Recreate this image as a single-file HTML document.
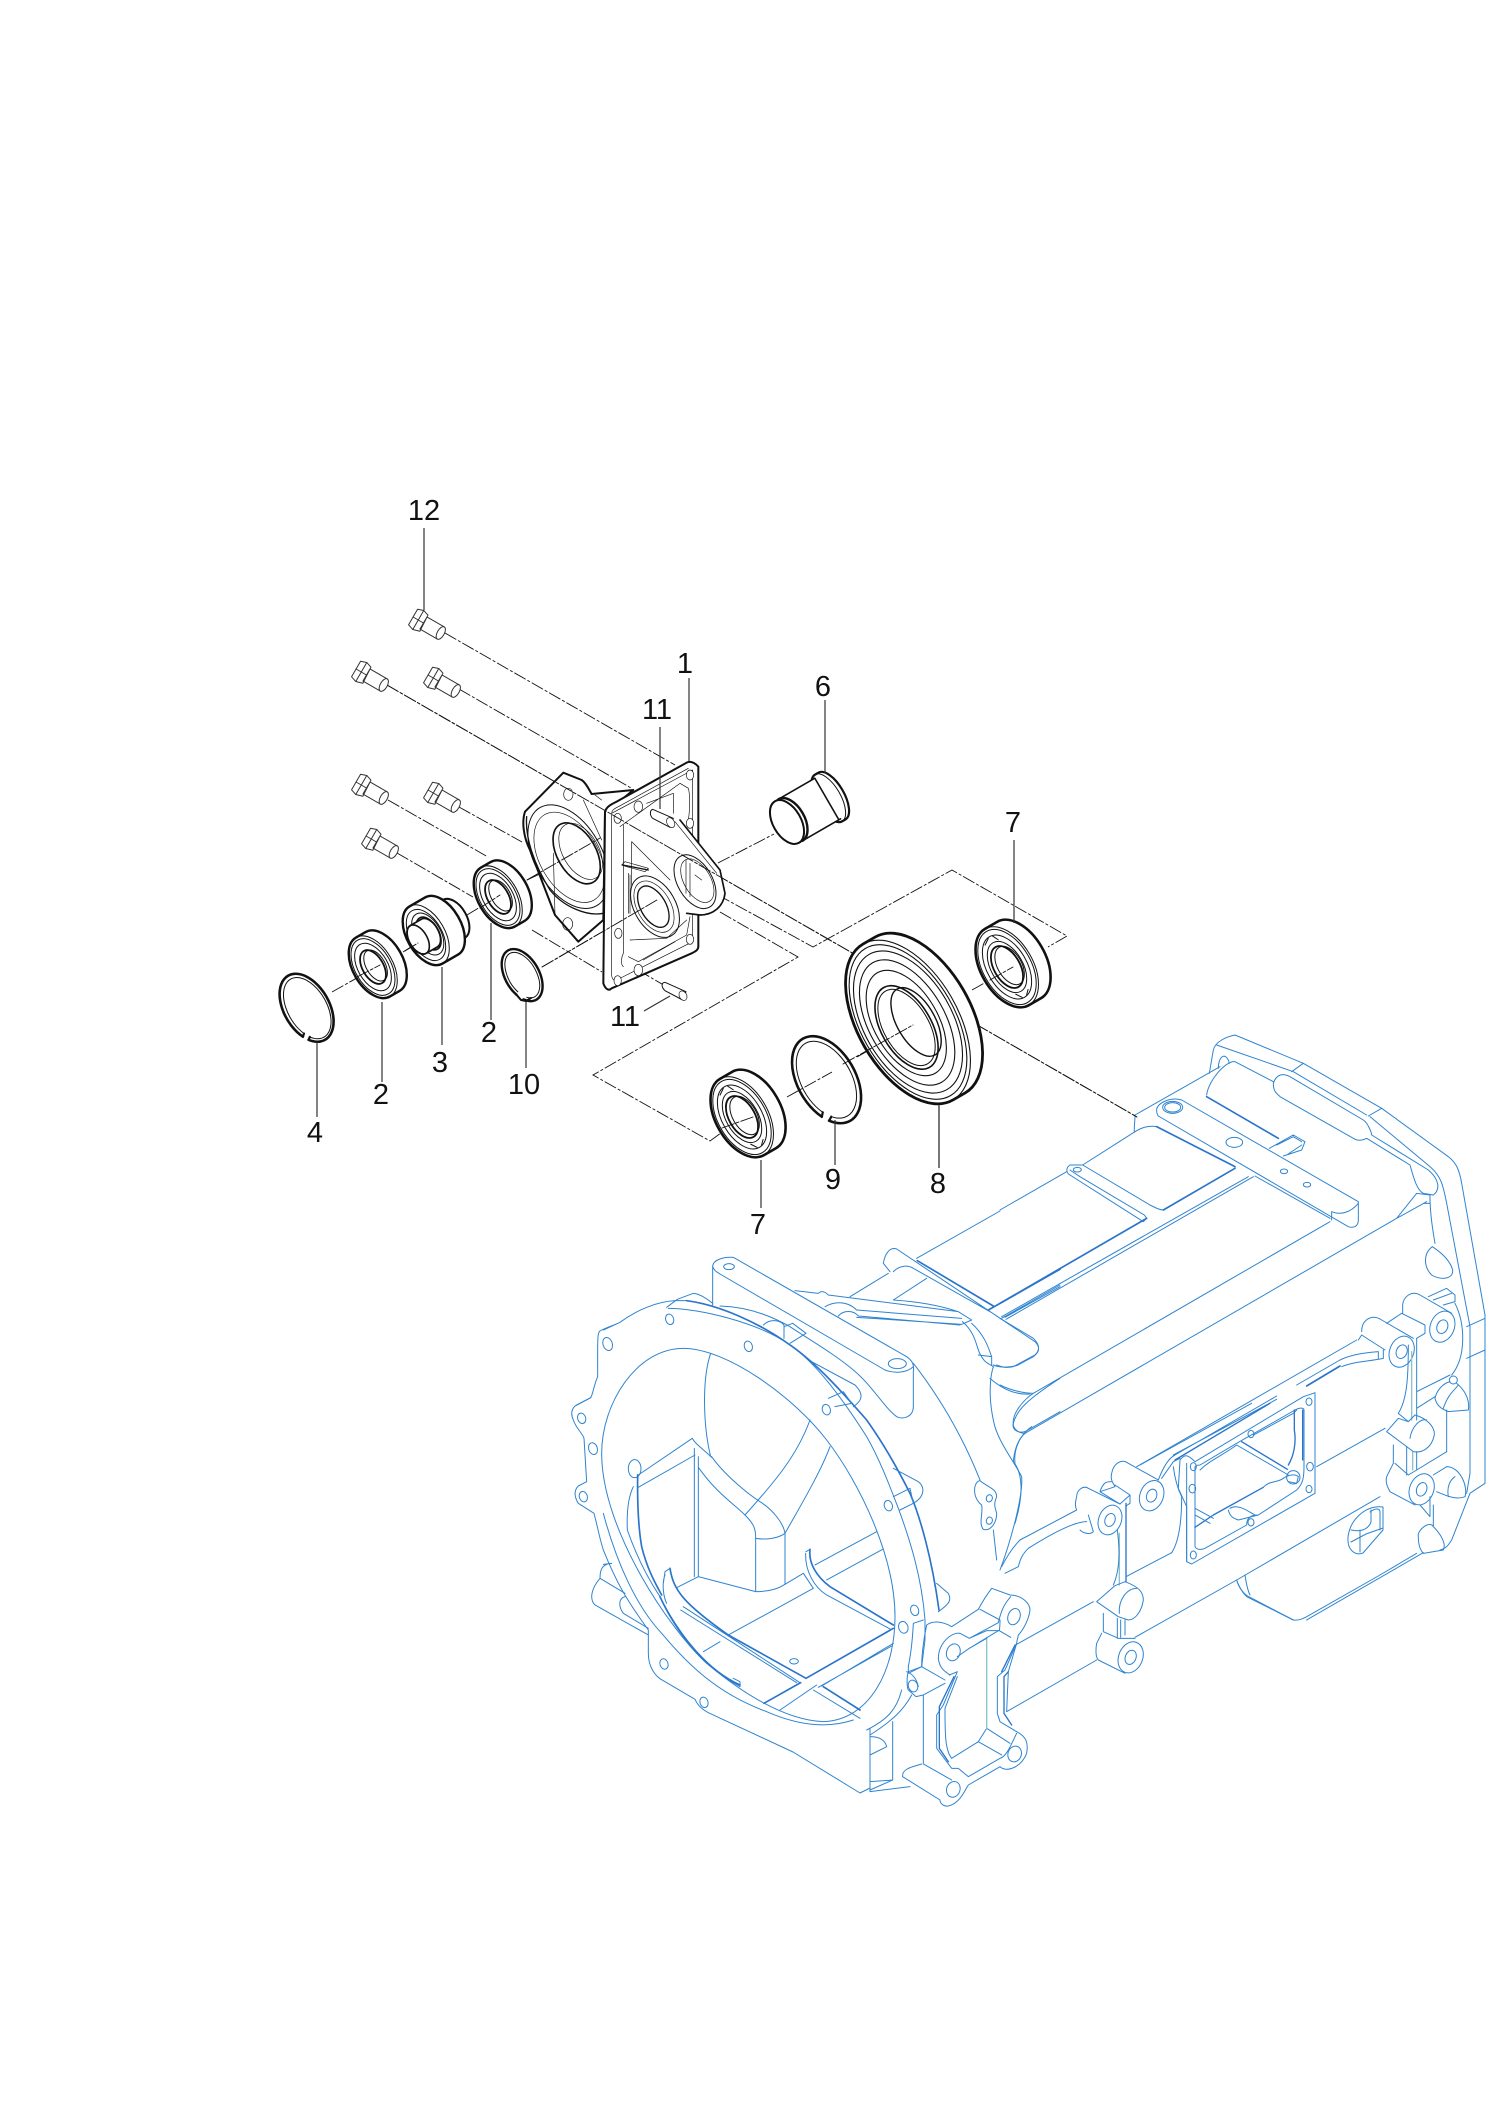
<!DOCTYPE html>
<html><head><meta charset="utf-8"><style>
html,body{margin:0;padding:0;background:#fff}
svg{display:block}
text{font-family:"Liberation Sans",sans-serif;font-size:29px;fill:#111;text-anchor:middle}
</style></head><body>
<svg width="1500" height="2121" viewBox="0 0 1500 2121" xmlns="http://www.w3.org/2000/svg">
<rect width="1500" height="2121" fill="#fff"/>
<!-- BLUE BODY -->
<g fill="none" stroke="#2f84d0" stroke-linejoin="round" stroke-linecap="round">
<!-- Z5 -->
<g transform="translate(560,1230) scale(.33333)" stroke-width="3">
<path d="M118,305C120,300 150,290 178,278C230,240 290,215 345,212L380,212M320,232L352,208L400,190C415,190 440,205 458,220M130,300L178,278M50,525L92,503"/>
<path d="M118,305C112,315 113,330 113,440C100,470 100,490 92,503L45,528C33,540 33,555 40,570C48,595 68,610 72,625L80,755L55,768C42,780 42,800 55,820L102,850C115,900 120,930 130,960C170,1060 200,1110 265,1200L265,1270C265,1310 285,1340 310,1352L405,1408C415,1430 430,1440 445,1448L699,1566L900,1689L930,1674"/>
<path d="M325,235C420,235 600,280 690,345C770,400 850,510 920,620C960,690 990,770 1015,835C1050,930 1085,1040 1095,1170L1095,1230L1085,1310L1045,1330L1045,1310C1055,1260 1058,1220 1060,1180L1090,1170"/>
<path stroke-width="5" stroke="#2a74cc" d="M380,212C480,225 600,280 690,345C770,400 850,490 920,570C970,640 1010,710 1050,790C1080,860 1115,980 1137,1140"/>
<path d="M125,670C125,520 230,355 370,355C500,355 700,500 800,630C900,760 1005,980 1005,1160C1005,1320 930,1470 790,1475C680,1470 560,1400 440,1300C330,1200 125,900 125,670Z"/>
<path d="M130,850C170,1000 230,1130 305,1210C380,1300 470,1390 620,1445C700,1480 790,1500 880,1470"/>
<path d="M452,370C425,450 430,590 452,680M750,570C710,680 640,760 555,855M810,650C780,730 720,830 675,910"/>
<path d="M415,712C470,790 520,820 555,855C585,885 587,900 587,925M455,680C490,730 560,790 600,815C640,840 670,880 675,910M587,925C620,930 655,925 675,910M587,925V1085M675,910V1063M397,625L235,735M235,772L405,675M403,655V1040M415,680V1040M397,625C405,640 420,650 455,682"/>
<ellipse cx="224" cy="716" rx="19" ry="27"/>
<path d="M220,770C205,800 200,850 202,900C230,980 260,1040 300,1100C350,1200 430,1310 540,1370"/>
<path stroke-width="5" stroke="#2a74cc" d="M233,735C232,800 233,880 245,950C260,1010 280,1050 305,1095M300,1100C350,1210 440,1320 540,1365"/>
<path d="M350,1073L415,1040L587,1085C620,1085 650,1080 675,1063L730,1030L760,1075L505,1215M430,1265L480,1235M950,905L765,1005M968,958L800,1050"/>
<path stroke-width="3" d="M737,970C735,1020 760,1070 800,1095L990,1197M738,965L750,958"/>
<path stroke-width="5" stroke="#2a74cc" d="M750,958C745,1000 770,1040 810,1070L1000,1185M1000,1195L738,1345M505,1215L738,1345M790,1370L900,1440M722,1358L612,1420M330,1015C340,1080 370,1120 505,1215"/>
<path d="M370,1130L720,1358M362,1140L710,1358M315,1035C305,1060 310,1100 320,1120M330,1015L315,1025L310,1060M770,1365L660,1440M785,1368L1000,1240M775,1372L995,1248M760,1380L900,1465M520,1345L540,1355V1370"/>
<ellipse cx="702" cy="1294" rx="13" ry="8"/>
<g>
<ellipse cx="143" cy="342" rx="14" ry="20" transform="rotate(-18 143 342)"/>
<ellipse cx="329" cy="268" rx="12" ry="16" transform="rotate(-18 329 268)"/>
<ellipse cx="565" cy="349" rx="12" ry="16" transform="rotate(-18 565 349)"/>
<ellipse cx="799" cy="539" rx="12" ry="16" transform="rotate(-18 799 539)"/>
<ellipse cx="985" cy="827" rx="12" ry="16" transform="rotate(-18 985 827)"/>
<ellipse cx="1064" cy="1141" rx="12" ry="16" transform="rotate(-18 1064 1141)"/>
<ellipse cx="1030" cy="1192" rx="14" ry="18" transform="rotate(-18 1030 1192)"/>
<ellipse cx="312" cy="1302" rx="12" ry="16" transform="rotate(-18 312 1302)"/>
<ellipse cx="432" cy="1417" rx="12" ry="16" transform="rotate(-18 432 1417)"/>
<ellipse cx="65" cy="565" rx="12" ry="16" transform="rotate(-18 65 565)"/>
<ellipse cx="99" cy="656" rx="13" ry="18" transform="rotate(-18 99 656)"/>
<ellipse cx="70" cy="800" rx="12" ry="16" transform="rotate(-18 70 800)"/>
</g>
<!-- top boss -->
<path d="M458,110C458,90 490,80 520,82L1040,380C1062,395 1062,410 1060,425L1060,530C1060,560 1030,570 1010,560C970,530 940,470 880,420C820,370 750,330 690,290C620,250 550,230 480,228M458,110V225M458,110C465,125 470,125 480,132L975,420C1000,430 1040,430 1060,410"/>
<ellipse cx="507" cy="110" rx="16" ry="9"/><ellipse cx="1012" cy="401" rx="27" ry="15"/>
<path d="M1060,400C1130,490 1200,600 1260,750"/>
<path d="M705,182L775,190C785,180 795,185 805,195L1195,245L1235,270L1205,283L890,262M795,230C820,215 860,210 890,240L1205,265M835,258C850,240 880,240 895,258L1200,285M1000,210C1080,215 1150,230 1195,245"/>
<path d="M1207,275C1250,310 1250,360 1262,375C1275,400 1285,400 1300,410M1235,280C1280,320 1290,370 1295,380L1295,405M1255,375L1295,380"/>
<path d="M610,285C630,265 660,270 672,285V325M672,290L698,280L738,310L690,340"/>
<path d="M1300,410C1290,440 1285,500 1300,570C1310,630 1360,690 1385,740C1390,800 1350,940 1320,1020M1290,445C1330,480 1370,495 1410,492M1365,700C1360,650 1385,610 1415,590"/>
<path d="M1360,580C1370,540 1400,510 1500,445M1360,580C1355,600 1375,610 1395,605L1500,545"/>
<path d="M1260,752C1240,755 1235,800 1265,825C1270,850 1255,880 1270,898C1290,905 1310,880 1310,850C1305,830 1300,825 1310,800C1310,775 1280,770 1260,752Z"/>
<ellipse cx="1288" cy="805" rx="9" ry="11" transform="rotate(18 1288 805)"/><ellipse cx="1288" cy="872" rx="9" ry="11" transform="rotate(18 1288 872)"/>
<path d="M1300,900L1310,990"/>
<path d="M970,100C975,70 990,50 1010,57L1425,335C1440,350 1440,365 1420,380L1370,407C1340,415 1310,410 1300,405M970,100L990,125M1000,125C1020,105 1045,105 1060,115L1290,245M1070,85L1320,-57M985,130L870,200M1100,145L1000,210"/>
<path stroke-width="5" stroke="#2a74cc" d="M1072,92L1300,228M1285,240L1500,118"/>
<path d="M1325,265L1500,165M1335,262L1500,170"/>
<path d="M1000,715L1075,755C1095,770 1095,800 1060,820L1020,840M1000,800L1050,775L1060,820M1130,1060L1165,1090C1175,1110 1170,1120 1135,1145M755,395L885,465C910,490 910,510 880,530M805,505L850,485L875,520L825,530"/>
<path d="M150,1000C125,1005 120,1020 120,1045C90,1080 90,1110 105,1125L265,1215M120,1045L195,1090M195,1100C175,1105 175,1130 190,1150L265,1195M130,1003L155,1000"/>
</g>
<!-- Z7 -->
<g transform="translate(880,1400) scale(.33333)" stroke-width="3">
<path d="M85,815L125,800C125,770 130,720 140,675C160,660 190,665 215,680L295,628C310,600 320,585 335,565L390,585C425,585 450,610 450,630C445,670 420,700 415,705L410,728"/>
<ellipse cx="402" cy="650" rx="18" ry="25" transform="rotate(20 402 650)"/>
<path d="M175,775C175,730 215,695 240,700L268,715L355,668C365,625 375,610 392,590M300,628L360,660C360,670 360,680 358,692M268,715L320,692L358,692L392,712"/>
<ellipse cx="220" cy="757" rx="20" ry="26" transform="rotate(20 220 757)"/>
<path d="M175,775C178,805 195,815 210,825M85,815C80,830 80,860 85,870L108,890L130,885L195,850M125,800L195,840M80,815C95,820 110,835 115,860M130,885V1092L215,1140"/>
<ellipse cx="99" cy="858" rx="14" ry="18" transform="rotate(-18 99 858)"/>
<path d="M68,1130C65,1105 100,1100 125,1092M68,1130L180,1200C180,1210 190,1220 205,1218C240,1210 255,1170 265,1155L360,1100C380,1120 425,1100 440,1060C445,1030 440,1010 410,995L360,965L352,940V830L375,810L410,730"/>
<ellipse cx="220" cy="1168" rx="20" ry="24" transform="rotate(20 220 1168)"/>
<ellipse cx="404" cy="1062" rx="20" ry="24" transform="rotate(20 404 1062)"/>
<path d="M208,825L232,815L190,915L170,945V1045L215,1105L235,1105L265,1130L360,1075C380,1070 395,1030 410,1000"/>
<path stroke-width="4" stroke="#2a74cc" d="M222,830L178,920V1045L205,1085M385,815L372,830V940L395,975M405,735L365,815"/>
<path d="M320,985L295,1025L215,1075C195,1050 195,1000 195,925L232,830M320,985L390,1030M295,1025L365,1065M410,730L385,815L380,935M380,935L650,780M410,733L640,605"/>
<path stroke="#8cc4c8" stroke-width="4" d="M320,715V985M718,400V555"/>
<path d="M320,715L268,745L232,770M268,745L355,692"/>
<!-- post lugs -->
<path d="M590,290C590,270 610,255 625,265L720,312M590,290C585,310 585,320 590,330L420,420C400,440 380,470 365,500M625,345L640,395C630,405 610,400 600,390M620,365C590,365 540,385 445,445C425,465 420,480 415,500L375,520"/>
<ellipse cx="690" cy="360" rx="34" ry="46" transform="rotate(22 690 360)" fill="#fff"/>
<ellipse cx="690" cy="360" rx="15" ry="20" transform="rotate(22 690 360)"/>
<path d="M695,220C700,190 725,175 745,190L835,240M695,220C690,240 700,250 705,260L660,275C670,245 680,245 695,245M660,275L720,312L750,285V310L738,318M705,255L750,285"/>
<ellipse cx="815" cy="287" rx="35" ry="47" transform="rotate(22 815 287)" fill="#fff"/>
<ellipse cx="815" cy="287" rx="15" ry="20" transform="rotate(22 815 287)"/>
<path stroke-width="4" stroke="#2a74cc" d="M738,310V545"/>
<path d="M712,390C720,450 720,510 700,555"/>
<path d="M650,605L705,557L735,545C775,560 790,575 790,600C785,635 765,660 745,660L715,650L650,605ZM718,640C715,600 740,565 770,565"/>
<path d="M670,640V695L715,715L765,715M735,660V705M712,655V715M722,660V712"/>
<path d="M665,700L650,730C645,760 650,775 655,780L735,820"/>
<ellipse cx="752" cy="772" rx="36" ry="48" transform="rotate(22 752 772)" fill="#fff"/>
<ellipse cx="752" cy="772" rx="16" ry="22" transform="rotate(22 752 772)"/>
<path d="M738,530L875,458M765,712L1070,540C1075,560 1090,580 1100,590L1240,660C1260,662 1270,655 1280,650L1500,525L1610,460M1095,525C1100,560 1105,575 1110,585M1070,540L1500,290M780,195L1115,10"/>
<!-- cover -->
<path d="M835,240C850,200 865,175 885,165L1190,-12M845,235L880,185L900,175M880,165L1190,-2"/>
<path stroke-width="4" stroke="#2a74cc" d="M885,180L1170,10"/>
<path fill="#fff" d="M900,180C915,160 925,165 945,185L1270,-10L1305,-22V280L935,492L920,485V320L895,265L900,180Z"/>
<path d="M875,458C900,420 905,350 905,290C895,270 885,240 880,200M920,190V485"/>
<path d="M945,200V440C950,450 965,450 975,445L1100,375C1100,345 1125,345 1135,345L1250,270C1270,250 1272,230 1272,200V30C1272,25 1262,20 1245,30L1070,130L960,195C950,195 945,200 945,200Z"/>
<path d="M960,210C990,180 1030,165 1070,135L1225,225M1120,105L1130,100L1240,40L1250,30"/>
<path stroke-width="4" stroke="#2a74cc" d="M1085,125L1222,208M1150,262L1000,345L945,382M1268,30V180M1243,30V90C1250,130 1240,170 1225,195"/>
<path d="M945,325L1000,355M945,345L990,370M1050,325C1075,310 1105,335 1125,345M1045,330C1050,350 1060,355 1075,360L1135,345"/>
<path d="M1150,262C1170,240 1190,250 1210,235C1225,225 1245,220 1255,230L1250,250L1225,245"/>
<circle cx="1240" cy="232" r="20"/>
<g>
<ellipse cx="940" cy="200" rx="9" ry="12"/><ellipse cx="937" cy="266" rx="10" ry="13"/><ellipse cx="940" cy="465" rx="9" ry="12"/><ellipse cx="1113" cy="102" rx="9" ry="11"/><ellipse cx="1113" cy="367" rx="9" ry="11"/><ellipse cx="1287" cy="5" rx="9" ry="11"/><ellipse cx="1290" cy="200" rx="10" ry="13"/><ellipse cx="1287" cy="267" rx="9" ry="11"/>
</g>
<!-- bottom of tub and pocket -->
<path d="M1070,540C1080,570 1095,585 1110,592L1240,660"/>
<path d="M-30,985V1175M38,965V1140L-30,1170M38,1140L-30,1145M90,1160L-30,1175"/>
<path d="M65,870C50,930 20,960 -40,990M95,885C70,930 40,960 -30,1005M-30,1010C0,1010 15,1020 20,1040L-30,1065"/>
</g>
<!-- Z6 -->
<g transform="translate(1000,1030) scale(.33333)" stroke-width="3">
<path d="M628,130L640,60C645,35 680,20 705,15L910,100L1145,235L1345,380C1370,400 1378,420 1385,460L1455,855V1360L1410,1390L1355,1530C1345,1545 1340,1555 1320,1560"/>
<path d="M875,125L910,100M1105,258L1145,235M650,45L880,125L1100,255M655,115C655,75 680,65 688,100M1110,260L1290,410C1325,440 1330,470 1340,520L1410,890V1330L1400,1390M1400,890L1455,865M1400,985L1455,960"/>
<path d="M820,160C830,130 850,130 870,140L1090,270C1105,280 1115,310 1115,315L1285,420C1320,450 1320,480 1300,495L1270,490M820,160C820,185 830,190 840,200L1060,325C1075,335 1090,330 1100,325L1230,405C1240,440 1250,480 1270,490"/>
<path d="M620,195C625,150 680,90 705,95L820,155M660,110L405,255C405,275 402,290 403,305"/>
<path stroke-width="5" stroke="#2a74cc" d="M620,200L835,325"/>
<path d="M470,240C470,220 510,200 545,210L1075,515V570C1075,590 1060,595 1045,590L475,258C470,252 470,245 470,240ZM995,545C1020,555 1050,550 1075,520M995,545V570"/>
<ellipse cx="518" cy="232" rx="30" ry="18"/><ellipse cx="518" cy="232" rx="24" ry="14"/>
<ellipse cx="703" cy="337" rx="25" ry="15"/><ellipse cx="852" cy="424" rx="11" ry="7"/><ellipse cx="921" cy="464" rx="11" ry="7"/>
<path d="M808,355L880,315L915,335L905,360L850,378M830,345L880,320L905,335M860,375L905,345"/>
<path d="M405,305C420,295 445,285 470,290L705,410M490,540C480,540 470,535 450,525L248,405L210,405C195,415 200,430 210,435L430,575L440,565L433,555L240,440L210,420"/>
<ellipse cx="232" cy="419" rx="12" ry="7"/>
<path d="M248,405L405,305M0,540L200,425M745,440L5,860M760,440L18,868M765,438L990,565M0,865L100,925C120,945 120,960 105,975L40,1010C20,1015 0,1010 -10,1005"/>
<path stroke-width="5" stroke="#2a74cc" d="M705,415L490,540M440,565L0,820M470,290L705,410"/>
<path d="M990,575L100,1090M1190,565L1280,515M1190,565L75,1210M1190,565L1250,490M1250,490L1290,495V520L1270,520M1290,500C1290,560 1300,610 1305,640"/>
<path d="M100,1090C70,1110 35,1150 40,1185C42,1200 60,1210 75,1210M0,1065C30,1080 70,1090 100,1090M75,1210C50,1230 42,1270 40,1295C70,1330 70,1400 45,1480"/>
<path d="M1297,650C1270,670 1270,710 1295,735C1320,750 1360,750 1358,720C1350,690 1320,665 1297,650Z"/>
<!-- lugs -->
<path d="M1085,905C1085,870 1115,850 1145,870L1240,925M1085,915L1155,960M1070,930L410,1310M1085,915L1075,930"/>
<ellipse cx="1205" cy="965" rx="36" ry="48" transform="rotate(22 1205 965)" fill="#fff"/><ellipse cx="1205" cy="965" rx="16" ry="21" transform="rotate(22 1205 965)"/>
<path d="M1020,990C1050,975 1080,970 1135,965V985M1025,1010C1060,995 1100,995 1150,985V960M1020,990L890,1065"/>
<path stroke-width="5" stroke="#2a74cc" d="M1020,1008L920,1068"/>
<path d="M1208,825C1210,800 1235,780 1260,795L1355,850M1208,825V850M1160,880L1205,850L1275,885V910L1250,925"/>
<ellipse cx="1327" cy="890" rx="36" ry="48" transform="rotate(22 1327 890)" fill="#fff"/><ellipse cx="1327" cy="890" rx="16" ry="21" transform="rotate(22 1327 890)"/>
<path d="M1285,800L1340,775L1365,795V815L1330,825M1300,810L1355,790M1365,820C1395,880 1400,980 1355,1035"/>
<ellipse cx="1360" cy="1050" rx="12" ry="12"/>
<path d="M1370,1060C1395,1080 1410,1110 1405,1140L1345,1145C1320,1135 1310,1125 1305,1105C1310,1080 1330,1060 1350,1055M1330,1135C1345,1090 1365,1080 1375,1065"/>
<path d="M1250,925V1170M1225,945C1225,1050 1220,1110 1195,1150L1225,1175M1250,1085L1350,1035M1250,1135L1305,1100M1340,1140V1265"/>
<path stroke="#8cc4c8" stroke-width="4" d="M1235,965V1170M1238,1265V1320"/>
<path d="M1160,1205L1195,1165L1225,1175L1245,1155C1280,1165 1305,1190 1303,1215C1295,1255 1265,1270 1240,1265L1160,1205ZM1230,1225C1235,1190 1260,1165 1280,1170"/>
<path d="M1180,1245V1300L1160,1340C1155,1360 1165,1375 1170,1385L1245,1425M1185,1300L1225,1335L1250,1320L1340,1265M1220,1250V1335M1250,1265V1320"/>
<ellipse cx="1265" cy="1378" rx="36" ry="48" transform="rotate(22 1265 1378)" fill="#fff"/><ellipse cx="1265" cy="1378" rx="15" ry="21" transform="rotate(22 1265 1378)"/>
<path d="M1155,1195L950,1310M1340,1310C1380,1310 1405,1370 1395,1400C1370,1410 1345,1400 1310,1385M1340,1310L1300,1335M1345,1400C1340,1370 1350,1350 1365,1340"/>
<path d="M1255,1520C1250,1500 1290,1470 1300,1490C1320,1510 1340,1540 1330,1560L1270,1570C1260,1560 1255,1540 1255,1520ZM1290,1400V1460L1260,1425M1300,1490V1425M1270,1568L920,1770"/>
</g>
<!-- oval hole -->
<g stroke-width="1">
<path d="M1348,1537C1350,1520 1365,1505 1383,1507V1530L1363,1553C1355,1556 1347,1550 1348,1537ZM1351,1530C1360,1532 1368,1530 1371,1522V1510M1351,1542L1366,1534L1383,1528M1360,1530V1552"/>
<path d="M1370,1512C1375,1508 1380,1508 1380,1512V1530"/>
</g>
</g>

<!-- BLACK DASHED -->
<g fill="none" stroke="#111" stroke-width=".9" stroke-dasharray="13 2 3 2">
<path d="M445,633L675,765M459,689L631,788M387,685L1137,1117M459,807L522,842M388,800L488,857M397,853L473,897M527,880L598,847"/>
<path d="M532,930L602,972M718,895L813,947L952,870L1067,936L1048,947M720,912L798,957L593,1075L710,1141L725,1130"/>
<path d="M332,992L380,965M403,952L417,943M467,915L500,895M527,880L600,838M542,967L657,900M718,863L774,834M696,878L715,866"/>
<path d="M787,1097L832,1072M857,1057L913,1025M972,990L1013,967M722,1128L753,1117M638,807L650,813"/>
<path d="M638,970L667,987"/>
</g>

<!-- PARTS -->
<g fill="none" stroke="#111" stroke-linejoin="round" stroke-linecap="round">
<!-- housing -->
<g transform="translate(510,750) scale(.33333)">
<path stroke-width="6" fill="#fff" d="M160,68L45,185C35,215 40,260 60,300L135,495L205,575L280,510L285,190L370,120L245,132C240,125 230,100 215,90L160,68Z"/>
<path stroke-width="4" d="M50,200C45,260 70,340 120,420C160,470 230,500 280,490"/>
<ellipse cx="175" cy="320" rx="100" ry="170" transform="rotate(-30 175 320)" stroke-width="3"/>
<ellipse cx="178" cy="322" rx="88" ry="148" transform="rotate(-30 178 322)" stroke-width="2"/>
<ellipse cx="200" cy="310" rx="58" ry="100" transform="rotate(-30 200 310)" stroke-width="5"/>
<ellipse cx="212" cy="304" rx="54" ry="92" transform="rotate(-30 212 304)" stroke-width="2"/>
<ellipse cx="175" cy="133" rx="14" ry="18" stroke-width="2"/>
<ellipse cx="173" cy="522" rx="15" ry="19" stroke-width="2"/>
<path stroke-width="2" d="M220,150L275,270M130,310L135,495M255,135L275,150"/>
<!-- plate -->
<path stroke-width="6" fill="#fff" d="M285,185C290,170 300,165 320,155L530,38C540,32 555,38 565,50V590C565,600 555,605 545,610L305,715C295,725 285,715 280,700Z"/>
<path stroke-width="2" d="M305,190C305,180 315,175 325,170L535,55M548,60V575L320,690C308,695 305,680 305,675V190Z"/>
<path stroke-width="2" d="M330,230L510,100L535,115C540,130 540,180 535,210M340,650C330,640 335,620 340,610V225M410,160L490,130V190M355,620L385,635L530,555L540,500"/>
<g stroke-width="2" fill="#fff">
<ellipse cx="323" cy="205" rx="11" ry="15"/><ellipse cx="540" cy="75" rx="11" ry="15"/><ellipse cx="540" cy="220" rx="11" ry="15"/><ellipse cx="540" cy="568" rx="11" ry="15"/><ellipse cx="325" cy="550" rx="11" ry="15"/><ellipse cx="323" cy="692" rx="11" ry="15"/>
<ellipse cx="385" cy="170" rx="13" ry="17"/><ellipse cx="385" cy="660" rx="13" ry="17"/>
</g>
<!-- right bulge -->
<path fill="#fff" stroke="none" d="M505,205L630,360L645,430C640,470 610,495 570,495L530,490L480,420L470,310L505,205Z"/>
<path stroke-width="5" d="M510,210L630,360L645,430C640,470 610,495 570,495L530,490"/>
<path stroke-width="2" d="M365,275L480,390M495,215L620,370M365,275V450"/>
<ellipse cx="555" cy="395" rx="52" ry="88" transform="rotate(-30 555 395)" stroke-width="3"/>
<ellipse cx="562" cy="392" rx="40" ry="72" transform="rotate(-30 562 392)" stroke-width="2"/>
<path stroke-width="2" d="M528,330V430M540,340V440M555,375L575,390"/>
<!-- center cup -->
<ellipse cx="435" cy="470" rx="62" ry="100" transform="rotate(-30 435 470)" stroke-width="3" fill="#fff"/>
<ellipse cx="432" cy="470" rx="50" ry="84" transform="rotate(-30 432 470)" stroke-width="2"/>
<ellipse cx="430" cy="470" rx="38" ry="68" transform="rotate(-30 430 470)" stroke-width="4"/>
<path stroke-width="2" d="M335,345L345,335L415,355L405,365L350,350ZM355,370V490M360,375V490M360,570L470,565L530,510M400,630L495,575"/>
<path stroke-width="4" d="M338,345L415,360"/>
<!-- pins -->
<path stroke-width="3" fill="#fff" d="M428,178L490,205L480,232L428,205C418,195 420,180 428,178Z"/>
<ellipse cx="482" cy="218" rx="11" ry="16" transform="rotate(-30 482 218)" stroke-width="2" fill="#fff"/>
<path stroke-width="3" fill="#fff" d="M465,697L528,725L518,750L465,722C452,710 455,697 465,697Z"/>
<ellipse cx="519" cy="737" rx="11" ry="15" transform="rotate(-30 519 737)" stroke-width="2" fill="#fff"/>
</g>
<!-- dash over housing -->
<path stroke-width=".9" stroke-dasharray="13 2 3 2" d="M387,685L1137,1117M527,880L600,838M542,967L657,900"/>

<!-- ring 4 -->
<path stroke-width="2.6" d="M302.9,1036.7A22.7 37 -30 1 1 308.6,1039.8"/>
<path stroke-width="1" d="M304,1033.5A19.5 33.5 -30 1 1 309.8,1036.9"/>
<path stroke-width="2.2" d="M302.9,1036.7L304,1033.5M308.6,1039.8L309.8,1036.9"/>
<!-- ring 9 -->
<path stroke-width="2.6" d="M821.8,1116.7A29 47.4 -30 1 1 829.1,1120.7"/>
<path stroke-width="1" d="M822.8,1112.3A25 42 -30 1 1 831.3,1116.7"/>
<path stroke-width="2.2" d="M821.8,1116.7L822.8,1112.3M829.1,1120.7L831.3,1116.7"/>
<!-- ring 10 -->
<path stroke-width="2.4" d="M516.4,994.7A17 28.4 -30 1 1 523.5,999.4"/>
<path stroke-width="1" d="M517.8,991.8A14 25 -30 1 1 526.8,997.3"/>
<path stroke-width="2" d="M516.4,994.7L521,1000L526,1001L531,998"/>

<!-- bearing 2 right -->
<g transform="translate(498,897) rotate(-30)">
<path stroke-width="2.4" fill="#fff" d="M0,-34L11,-34A20 34 0 0 1 11,34L0,34A20 34 0 0 1 0,-34Z"/>
<g stroke-width="1"><ellipse rx="20" ry="34"/><ellipse rx="18" ry="31"/><ellipse rx="15" ry="26"/></g>
<ellipse rx="10.5" ry="18.5" stroke-width="1.8"/><ellipse cx="3" rx="9.5" ry="17" stroke-width="1"/>
</g>
<!-- bearing 2 left -->
<g transform="translate(373,967) rotate(-30)">
<path stroke-width="2.4" fill="#fff" d="M0,-34L11,-34A20 34 0 0 1 11,34L0,34A20 34 0 0 1 0,-34Z"/>
<g stroke-width="1"><ellipse rx="20" ry="34"/><ellipse rx="18" ry="31"/><ellipse rx="15" ry="26"/></g>
<ellipse rx="10.5" ry="18.5" stroke-width="1.8"/><ellipse cx="3" rx="9.5" ry="17" stroke-width="1"/>
</g>
<!-- hub 3 -->
<g transform="translate(426,935) rotate(-30)">
<path stroke-width="2" fill="#fff" d="M20,-22H32A13 22 0 0 1 32,22H20Z"/>
<path stroke-width="2.4" fill="#fff" d="M0,-33L18,-33A19 33 0 0 1 18,33L0,33A19 33 0 0 1 0,-33Z"/>
<g stroke-width="1"><ellipse rx="19" ry="33"/><ellipse rx="16" ry="28"/><ellipse cx="2" rx="13" ry="23"/></g>
<ellipse cx="3" rx="10" ry="18" stroke-width="1.6"/>
<path stroke-width="1.8" fill="#fff" d="M-9,-16L4,-16A9 16 0 0 1 4,16L-9,16A9 16 0 0 1 -9,-16Z"/>
<ellipse cx="-9" rx="9" ry="16" stroke-width="1.6"/>
</g>
<!-- bearing 7 lower -->
<g transform="translate(742,1117) rotate(-30)">
<path stroke-width="2.6" fill="#fff" d="M0,-44L14,-44A26 44 0 0 1 14,44L0,44A26 44 0 0 1 0,-44Z"/>
<g stroke-width="1"><ellipse rx="26" ry="44"/><ellipse rx="24" ry="41"/><ellipse rx="20" ry="35"/><ellipse rx="16" ry="28"/></g>
<ellipse rx="13" ry="23" stroke-width="1.8"/><ellipse cx="3" rx="12" ry="21" stroke-width="1"/>
<path stroke-width="1" d="M-2,-34L-8,-30M3,-34L6,-28M-2,34L-6,28M3,34L7,30"/>
</g>
<!-- bearing 7 upper -->
<g transform="translate(1007,967) rotate(-30)">
<path stroke-width="2.6" fill="#fff" d="M0,-44L14,-44A26 44 0 0 1 14,44L0,44A26 44 0 0 1 0,-44Z"/>
<g stroke-width="1"><ellipse rx="26" ry="44"/><ellipse rx="24" ry="41"/><ellipse rx="20" ry="35"/><ellipse rx="16" ry="28"/></g>
<ellipse rx="13" ry="23" stroke-width="1.8"/><ellipse cx="3" rx="12" ry="21" stroke-width="1"/>
<path stroke-width="1" d="M-2,-34L-8,-30M3,-34L6,-28M-2,34L-6,28M3,34L7,30"/>
</g>
<!-- seal 8 -->
<g transform="translate(908,1022) rotate(-30)">
<path stroke-width="2.8" fill="#fff" d="M0,-90L14,-90A50 90 0 0 1 14,90L0,90A50 90 0 0 1 0,-90Z"/>
<g stroke-width="1.1"><ellipse rx="50" ry="90"/><ellipse rx="47" ry="85"/><ellipse rx="44" ry="78"/><ellipse cx="-1" rx="38" ry="69"/><ellipse cx="-2" rx="32" ry="58"/></g>
<ellipse cx="-4" cy="4" rx="25" ry="46" stroke-width="1.6"/>
<ellipse cx="-4" cy="4" rx="22.5" ry="42" stroke-width="1"/>
<ellipse cx="7" cy="4" rx="19" ry="38" stroke-width="1.4"/>
</g>
<!-- pin 6 -->
<g transform="translate(787,822) rotate(-30)">
<path stroke-width="2.2" fill="#fff" d="M48,-27H52A12 27 0 0 1 52,27H48A12 27 0 0 1 48,-27Z"/>
<path stroke-width="1" d="M48,-27A12 27 0 0 1 48,27"/>
<path fill="#fff" stroke="none" d="M0,-24H48V24H0Z"/>
<path stroke-width="1.6" d="M0,-24H46M0,24H48M46,-24V24"/>
<ellipse rx="14" ry="24" stroke-width="2" fill="#fff"/>
<path stroke-width="2.4" d="M4,-24A14 24 0 0 1 4,24"/>
</g>
<!-- bolts -->
<g stroke-width="1" stroke="#333">
<g transform="translate(420,621) rotate(30)"><path fill="#fff" d="M-8,-9L-2,-11L4,-9L5,9L-2,11L-8,9ZM4,-7H24V7H4Z"/><ellipse cx="24" rx="3.5" ry="7" fill="#fff"/><path d="M-8,0H4M-2,-11V11"/></g>
<g transform="translate(363,673) rotate(30)"><path fill="#fff" d="M-8,-9L-2,-11L4,-9L5,9L-2,11L-8,9ZM4,-7H24V7H4Z"/><ellipse cx="24" rx="3.5" ry="7" fill="#fff"/><path d="M-8,0H4M-2,-11V11"/></g>
<g transform="translate(435,679) rotate(30)"><path fill="#fff" d="M-8,-9L-2,-11L4,-9L5,9L-2,11L-8,9ZM4,-7H24V7H4Z"/><ellipse cx="24" rx="3.5" ry="7" fill="#fff"/><path d="M-8,0H4M-2,-11V11"/></g>
<g transform="translate(363,786) rotate(30)"><path fill="#fff" d="M-8,-9L-2,-11L4,-9L5,9L-2,11L-8,9ZM4,-7H24V7H4Z"/><ellipse cx="24" rx="3.5" ry="7" fill="#fff"/><path d="M-8,0H4M-2,-11V11"/></g>
<g transform="translate(435,794) rotate(30)"><path fill="#fff" d="M-8,-9L-2,-11L4,-9L5,9L-2,11L-8,9ZM4,-7H24V7H4Z"/><ellipse cx="24" rx="3.5" ry="7" fill="#fff"/><path d="M-8,0H4M-2,-11V11"/></g>
<g transform="translate(373,840) rotate(30)"><path fill="#fff" d="M-8,-9L-2,-11L4,-9L5,9L-2,11L-8,9ZM4,-7H24V7H4Z"/><ellipse cx="24" rx="3.5" ry="7" fill="#fff"/><path d="M-8,0H4M-2,-11V11"/></g>
</g>
<!-- axis over parts -->
<path stroke-width=".9" stroke-dasharray="13 2 3 2" d="M357,977L380,965M405,951L418,943M480,908L500,895M843,1064L913,1025M990,980L1013,967M722,1128L753,1117"/>
</g>
<!-- LEADERS -->
<g stroke="#333" stroke-width="1.2" fill="none">
<path d="M424,528V610M689,678V761M660,727V809M825,700V773M1014,840V923M491,923V1020M442,967V1045M382,1002V1082M317,1042V1117M526,1002V1068M761,1160V1208M835,1120V1165M644,1011L670,996"/>
<path d="M939,1105V1168" stroke-width="1.6" stroke="#555"/>
</g>
<!-- LABELS -->
<text x="424" y="520">12</text>
<text x="685" y="673">1</text>
<text x="657" y="719">11</text>
<text x="823" y="696">6</text>
<text x="1013" y="832">7</text>
<text x="625" y="1026">11</text>
<text x="489" y="1042">2</text>
<text x="440" y="1072">3</text>
<text x="381" y="1104">2</text>
<text x="315" y="1142">4</text>
<text x="524" y="1094">10</text>
<text x="758" y="1234">7</text>
<text x="833" y="1189">9</text>
<text x="938" y="1193">8</text>
</svg>
</body></html>
